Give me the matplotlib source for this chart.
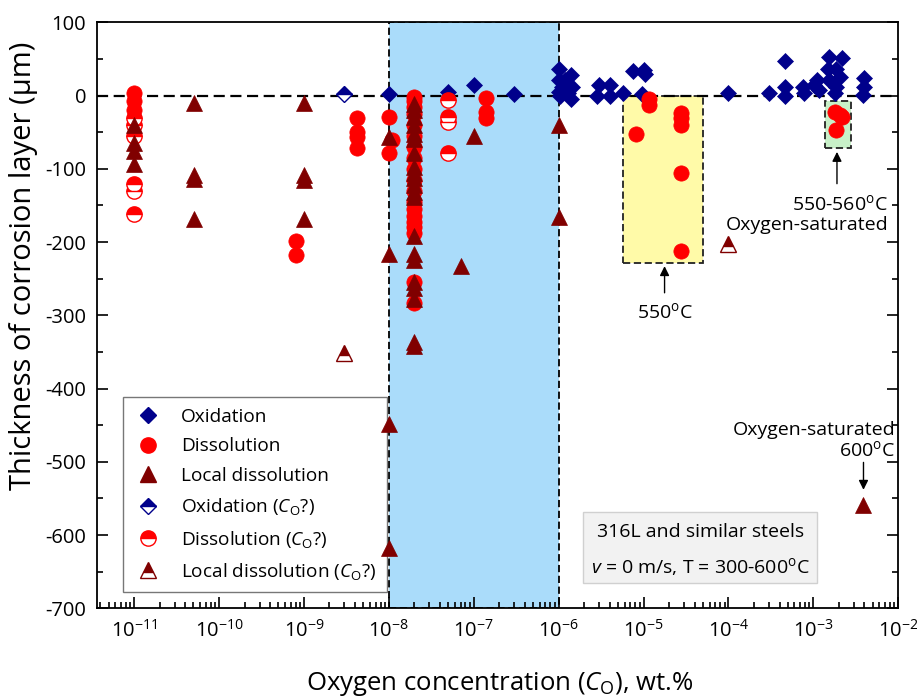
import matplotlib
matplotlib.use("Agg")
import matplotlib.pyplot as plt
from matplotlib.lines import Line2D
from matplotlib.patches import Rectangle
from matplotlib.ticker import LogLocator, MultipleLocator, NullFormatter

plt.rcParams['font.family'] = ['Open Sans', 'DejaVu Sans']
plt.rcParams['mathtext.fontset'] = 'custom'
plt.rcParams['mathtext.rm'] = 'Open Sans'
plt.rcParams['mathtext.it'] = 'Open Sans:italic'
plt.rcParams['mathtext.bf'] = 'Open Sans:bold'
plt.rcParams['axes.unicode_minus'] = False

# ---- data (oxygen concentration in wt.%, thickness in um) ----
ox_x = [1e-8, 5e-8, 1e-7, 3e-7,
        1.0e-6, 1.4e-6, 1.0e-6, 1.1e-6, 1.45e-6, 1.0e-6, 1.3e-6, 1.4e-6, 1.2e-6, 1.05e-6,
        3e-6, 4e-6, 2.8e-6, 4e-6, 5.8e-6, 9.5e-6, 7.5e-6, 1.0e-5, 1.05e-5,
        1e-4,
        4.6e-4, 3.0e-4, 4.6e-4, 4.6e-4, 7.5e-4, 7.8e-4, 1.02e-3, 1.12e-3, 1.17e-3,
        1.55e-3, 2.19e-3, 1.48e-3, 1.85e-3, 1.55e-3, 2.04e-3, 1.85e-3, 1.78e-3,
        3.98e-3, 3.98e-3, 3.8e-3]
ox_y = [2, 5, 14, 2,
        37, 28, 21, 12, 12, 5, 3, -4, 22, 0,
        14, 14, -1, -1, 3, 2, 33, 35, 29,
        3,
        47, 3, 12, -1, 12, 3, 15, 21, 8,
        53, 51, 37, 37, 21, 26, 12, 3,
        24, 12, 1]

dis_x = [1e-11, 1e-11, 1e-11,
         8e-10, 8e-10,
         4.2e-9, 4.2e-9, 4.2e-9, 4.2e-9,
         1e-8, 1e-8, 1.1e-8] + [2e-8] * 19 + [
         1.4e-7, 1.4e-7, 1.4e-7,
         1.17e-5, 1.17e-5, 2.75e-5, 2.75e-5, 2.75e-5, 8.1e-6, 2.75e-5, 2.75e-5,
         1.78e-3, 2.2e-3, 2.05e-3, 1.85e-3]
dis_y = [3, -8, -20,
         -198, -218,
         -31, -49, -56, -72,
         -29, -79, -61,
         -2, -8, -15, -25, -40, -55, -70, -85, -100, -115, -130, -145, -155,
         -165, -172, -180, -188, -255, -283,
         -3, -22, -31,
         -4, -13, -24, -31, -40, -53, -106, -212,
         -22, -29, -26, -47]

loc_x = [1e-11] * 4 + [5.1e-11] * 4 + [1e-9] * 4 + [1e-8] * 4 + [2e-8] * 21 + [
         7e-8, 1e-7, 1e-6, 1e-6, 3.9e-3]
loc_y = [-40, -65, -75, -93,
         -10, -109, -114, -168,
         -10, -109, -115, -168,
         -56, -216, -449, -618,
         -11, -20, -29, -40, -52, -59, -79, -97, -106, -113, -122, -132, -138,
         -191, -216, -225, -255, -262, -278, -337, -342,
         -232, -55, -40, -166, -559]

oxq_x = [3e-9]
oxq_y = [2]

disq_x = [1e-11] * 6 + [5e-8] * 4
disq_y = [-30, -40, -55, -120, -130, -162, -6, -29, -36, -79]

locq_x = [3e-9, 1e-4]
locq_y = [-351, -202]

navy = '#00008b'
red = '#ff0000'
maroon = '#800000'

fig = plt.figure(figsize=(9.17, 7.0), dpi=100)
ax = fig.add_axes([0.106, 0.131, 0.8735, 0.837])

# shaded regions
ax.add_patch(Rectangle((1e-8, -700), 1e-6 - 1e-8, 800, facecolor='#aadcfa',
                       edgecolor='black', ls=(0, (4, 2)), lw=1.3, zorder=1))
ax.add_patch(Rectangle((5.8e-6, -228), 5e-5 - 5.8e-6, 228, facecolor='#fffaa8',
                       edgecolor='#222222', ls=(0, (4, 2)), lw=1.3, zorder=1))
ax.add_patch(Rectangle((1.38e-3, -72), 2.75e-3 - 1.38e-3, 64, facecolor='#c8f0c8',
                       edgecolor='#222222', ls=(0, (4, 2)), lw=1.3, zorder=1))

ax.axhline(0, color='black', ls=(0, (5, 2.5)), lw=1.6, zorder=2)

ax.plot(ox_x, ox_y, ls='none', marker='D', ms=8, color=navy, mew=0.5, zorder=3)
ax.plot(dis_x, dis_y, ls='none', marker='o', ms=11, color=red, mew=0.5, zorder=4)
ax.plot(disq_x, disq_y, ls='none', marker='o', ms=11, color=red, mfc=red,
        mfcalt='white', fillstyle='top', mew=1, zorder=4)
ax.plot(loc_x, loc_y, ls='none', marker='^', ms=11.5, color=maroon, mew=0.5, zorder=5)
ax.plot(oxq_x, oxq_y, ls='none', marker='D', ms=8, color=navy, mfc=navy,
        mfcalt='white', fillstyle='top', mew=1, zorder=5)
ax.plot(locq_x, locq_y, ls='none', marker='^', ms=11.5, color=maroon, mfc=maroon,
        mfcalt='white', fillstyle='top', mew=1, zorder=5)

ax.set_xscale('log')
ax.set_xlim(10 ** -11.435, 1e-2)
ax.set_ylim(-700, 100)
ax.xaxis.set_major_locator(LogLocator(base=10, numticks=20))
ax.xaxis.set_minor_locator(LogLocator(base=10, subs=range(2, 10), numticks=20))
ax.xaxis.set_minor_formatter(NullFormatter())
ax.yaxis.set_major_locator(MultipleLocator(100))
ax.yaxis.set_minor_locator(MultipleLocator(50))
ax.tick_params(which='both', direction='in', right=True, top=False, labelsize=14.5,
               width=1.2)
ax.tick_params(which='major', length=8, pad=8)
ax.tick_params(which='minor', length=4.5)
for s in ax.spines.values():
    s.set_linewidth(1.3)

ax.set_xlabel('Oxygen concentration ($C_\\mathrm{O}$), wt.%', fontsize=18.5)
ax.xaxis.set_label_coords(0.502, -0.105)
ax.set_ylabel('Thickness of corrosion layer (\u03bcm)', fontsize=21)
ax.yaxis.set_label_coords(-0.074, 0.585)

# annotations
arrow = dict(arrowstyle='-|>', color='black', lw=1, mutation_scale=14)
ax.annotate('', xy=(1.77e-5, -229), xytext=(1.77e-5, -273), arrowprops=arrow)
ax.text(1.77e-5, -296, '550$^\\mathrm{o}$C', ha='center', va='center', fontsize=14)
ax.annotate('', xy=(1.9e-3, -73), xytext=(1.9e-3, -124), arrowprops=arrow)
ax.text(7.6e-3, -148, '550-560$^\\mathrm{o}$C', ha='right', va='center', fontsize=14)
ax.text(7.6e-3, -176, 'Oxygen-saturated', ha='right', va='center', fontsize=14)
ax.annotate('', xy=(3.9e-3, -542), xytext=(3.9e-3, -497), arrowprops=arrow)
ax.text(9.2e-3, -456, 'Oxygen-saturated', ha='right', va='center', fontsize=14)
ax.text(9.2e-3, -484, '600$^\\mathrm{o}$C', ha='right', va='center', fontsize=14)

ax.add_patch(Rectangle((0.607, 0.043), 0.292, 0.121, transform=ax.transAxes,
                       facecolor='#f2f2f2', edgecolor='#d0d0d0', lw=1, zorder=6))
ax.text(0.753, 0.130, '316L and similar steels', transform=ax.transAxes,
        ha='center', va='center', fontsize=14, zorder=7)
ax.text(0.753, 0.0705, '$v$ = 0 m/s, T = 300-600$^\\mathrm{o}$C', transform=ax.transAxes,
        ha='center', va='center', fontsize=14, zorder=7)

handles = [
    Line2D([], [], ls='none', marker='D', ms=8, color=navy),
    Line2D([], [], ls='none', marker='o', ms=11, color=red),
    Line2D([], [], ls='none', marker='^', ms=11.5, color=maroon),
    Line2D([], [], ls='none', marker='D', ms=8, color=navy, mfcalt='white', fillstyle='top', mew=1),
    Line2D([], [], ls='none', marker='o', ms=11, color=red, mfcalt='white', fillstyle='top', mew=1),
    Line2D([], [], ls='none', marker='^', ms=11.5, color=maroon, mfcalt='white', fillstyle='top', mew=1),
]
labels = ['Oxidation', 'Dissolution', 'Local dissolution',
          'Oxidation ($C_\\mathrm{O}$?)', 'Dissolution ($C_\\mathrm{O}$?)',
          'Local dissolution ($C_\\mathrm{O}$?)']
leg = ax.legend(handles, labels, loc='lower left', bbox_to_anchor=(0.032, 0.027),
                fontsize=13.7, frameon=True, fancybox=False, edgecolor='#555555',
                handlelength=1.5, handletextpad=1.0, labelspacing=0.6,
                borderpad=0.55, borderaxespad=0)
leg.get_frame().set_linewidth(1)
leg.set_zorder(2.5)

fig.savefig('out.png', dpi=100)
